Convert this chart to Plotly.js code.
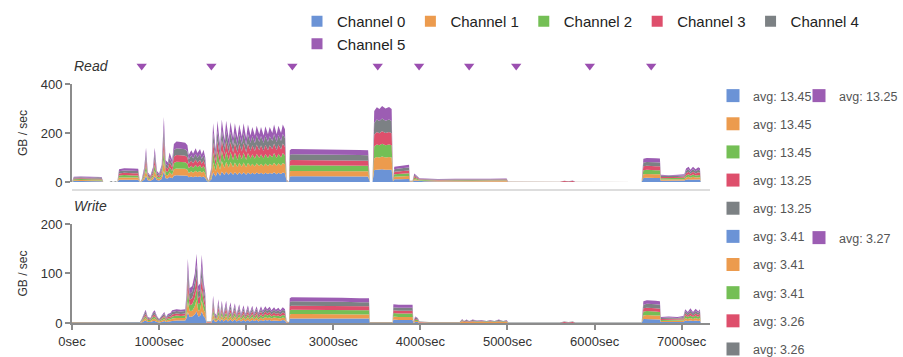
<!DOCTYPE html>
<html>
<head>
<meta charset="utf-8">
<script src="https://cdn.plot.ly/plotly-3.0.1.min.js"></script>
<style>html,body{margin:0;padding:0;background:#fff;}#chart{width:903px;height:357px;}</style>
</head>
<body>
<div id="chart"></div>
<script>
// ---------- DATA ----------
var channelNames = ['Channel 0', 'Channel 1', 'Channel 2', 'Channel 3', 'Channel 4', 'Channel 5'];
var readAvgLabels = ['avg: 13.45', 'avg: 13.45', 'avg: 13.45', 'avg: 13.25', 'avg: 13.25', 'avg: 13.25'];
var writeAvgLabels = ['avg: 3.41', 'avg: 3.41', 'avg: 3.41', 'avg: 3.26', 'avg: 3.26', 'avg: 3.27'];
var eventTimes = [800, 1600, 2530, 3510, 3985, 4560, 5100, 5945, 6650];
var xTickValues = [0, 1000, 2000, 3000, 4000, 5000, 6000, 7000];
var xTickLabels = ['0sec', '1000sec', '2000sec', '3000sec', '4000sec', '5000sec', '6000sec', '7000sec'];

var tRead = [
  0,20,100,200,300,340,360,430,450,470,
  500,520,540,600,700,760,780,800,830,850,
  870,900,930,950,975,1000,1030,1055,1075,1100,
  1120,1150,1170,1200,1250,1300,1325,1340,1370,1390,
  1420,1440,1470,1490,1510,1530,1550,1570,1600,1620,
  1650,1670,1700,1720,1750,1770,1800,1820,1850,1870,
  1900,1920,1950,1970,2000,2020,2050,2070,2100,2120,
  2150,2170,2200,2220,2250,2270,2300,2320,2350,2370,
  2400,2420,2445,2465,2490,2500,2520,2700,2900,3100,
  3300,3400,3420,3450,3470,3500,3530,3560,3600,3640,
  3670,3685,3700,3750,3800,3870,3880,3910,3930,3960,
  3990,4050,4200,4400,4600,4800,4990,5010,5600,5650,
  5700,5750,5780,6540,6560,6600,6700,6750,6760,6850,
  6950,7030,7050,7080,7100,7130,7160,7190,7210,7220
];
var read0 = [
  0,4,4,3,4,3,0,0,1,0, 1,0,9,10,9,9,0,2,10,24, 7,5,10,23,8,6,12,45,15,14,
  20,15,26,28,27,27,25,19,22,19, 23,20,23,19,22,17,4,1,11,40, 22,42,25,43,29,42,30,41,30,40,
  30,40,31,40,30,39,32,38,32,39, 33,38,32,38,33,37,34,40,32,38, 33,39,36,2,0,22,23,23,22,22,
  22,22,0,0,49,51,50,52,50,51, 50,2,11,11,12,12,1,1,6,5, 3,3,2,2,2,3,2,0,0,1,
  1,1,0,0,16,17,16,16,5,5, 5,6,9,11,9,10,9,10,10,0
];
var read1 = [
  0,3,4,4,4,3,0,0,1,0, 0,0,9,9,9,9,0,2,10,23, 7,4,10,24,8,6,12,44,15,13,
  20,15,26,27,27,27,25,18,22,19, 23,20,22,19,22,17,3,1,10,40, 22,42,25,43,28,41,29,41,30,40,
  30,39,31,40,30,39,32,37,31,38, 32,37,32,38,32,38,33,39,33,39, 34,39,36,2,0,22,22,22,22,22,
  22,22,0,0,48,51,50,52,50,51, 50,2,10,11,11,12,1,1,6,4, 3,2,2,2,2,2,3,0,0,1,
  0,1,0,0,16,16,16,16,5,5, 5,5,9,10,8,11,9,10,9,0
];
var read2 = [
  0,4,4,3,3,4,0,0,1,0, 1,0,9,10,9,9,0,2,10,24, 7,4,10,23,7,6,12,44,15,14,
  20,15,26,28,28,27,25,19,22,20, 23,20,23,19,22,17,4,1,10,40, 22,42,25,43,29,42,29,41,30,40,
  30,39,31,40,30,40,32,38,32,38, 33,38,32,38,33,37,34,39,32,38, 33,40,36,2,0,22,23,23,23,22,
  22,22,0,0,49,51,50,52,50,51, 50,2,11,11,12,12,1,1,6,4, 3,3,2,3,2,2,2,0,0,1,
  1,1,0,0,16,17,16,16,5,5, 5,6,9,11,9,10,9,10,10,0
];
var read3 = [
  0,3,3,4,4,3,0,0,0,0, 0,0,8,9,9,9,0,1,10,23, 6,4,10,24,7,6,11,44,15,13,
  20,15,26,27,27,26,25,18,21,19, 23,19,22,18,22,16,3,1,10,40, 21,41,25,42,28,42,29,41,30,40,
  30,39,31,40,30,39,31,37,32,38, 32,37,31,38,32,38,33,39,33,38, 33,39,36,2,0,21,22,22,22,22,
  22,21,0,0,48,51,49,51,50,51, 49,2,10,11,11,11,1,1,6,4, 2,2,2,2,2,2,3,0,0,1,
  0,1,0,0,16,16,16,16,5,4, 5,5,9,10,8,11,8,10,9,0
];
var read4 = [
  0,4,4,3,4,4,0,0,1,0, 1,0,9,9,10,9,0,2,10,23, 7,4,10,23,8,6,12,44,15,13,
  20,15,26,28,27,27,25,18,22,19, 23,20,23,19,22,17,3,1,10,40, 22,42,25,42,28,41,29,41,30,40,
  30,39,31,40,30,39,32,38,31,39, 33,38,32,38,33,37,33,39,32,39, 34,39,36,1,0,22,23,23,22,22,
  22,22,0,0,48,51,50,52,50,51, 50,1,10,11,11,12,1,1,6,4, 2,2,2,2,2,2,2,0,0,1,
  1,1,0,0,16,16,17,16,5,5, 5,5,10,10,8,10,9,10,9,0
];
var read5 = [
  0,3,3,4,3,3,0,0,0,0, 0,0,8,9,9,9,0,1,10,23, 6,4,10,23,7,5,11,44,15,13,
  20,15,25,27,27,26,25,18,21,19, 23,19,22,18,22,16,3,0,9,40, 21,41,25,42,28,42,29,40,30,40,
  30,39,30,40,30,39,31,37,32,38, 32,37,31,38,32,38,33,39,33,38, 33,39,35,1,0,21,22,22,22,22,
  21,21,0,0,48,50,49,51,50,51, 49,1,10,10,11,11,0,0,5,4, 2,2,2,2,2,2,2,0,0,0,
  0,1,0,0,15,16,16,16,5,4, 5,5,9,10,8,10,8,10,9,0
];

var tWrite = [
  0,200,400,600,780,800,830,845,870,900,
  930,950,975,1000,1030,1060,1080,1100,1130,1150,
  1200,1250,1300,1315,1330,1350,1380,1410,1430,1450,
  1470,1490,1510,1530,1545,1600,1620,1640,1660,1680,
  1700,1720,1740,1770,1790,1820,1840,1870,1890,1920,
  1940,1970,1990,2020,2040,2070,2090,2120,2140,2170,
  2190,2220,2240,2270,2290,2320,2340,2370,2390,2420,
  2445,2465,2490,2500,2520,2700,2900,3100,3300,3410,
  3420,3680,3690,3750,3850,3910,3920,3940,3970,3990,
  4100,4450,4480,4500,4530,4560,4600,4650,4700,4760,
  4800,4850,4900,4950,4990,5010,5600,5650,5700,5750,
  5780,6540,6560,6600,6700,6750,6760,6850,6950,7020,
  7040,7070,7100,7130,7160,7190,7210,7220
];
var write0 = [
  0,0,0,0,0,1,4,5,2,2, 4,4,2,1,2,4,2,3,3,4, 5,5,5,10,22,12,13,17,23,13,
  14,23,14,10,0,0,9,3,2,8, 3,8,3,7,3,7,3,7,3,6, 3,6,3,6,3,6,4,6,3,6,
  4,6,5,6,4,5,5,5,4,6, 5,0,0,9,9,9,9,9,9,9, 0,0,7,6,6,6,0,2,2,0,
  0,0,1,1,1,1,1,1,1,1, 1,1,1,1,1,0,0,0,0,0, 0,0,8,8,8,7,2,2,2,2,
  5,4,5,4,5,4,5,0
];
var write1 = [
  1,1,0,1,1,2,4,5,2,2, 4,5,3,2,3,4,2,3,4,5, 5,5,5,10,22,12,12,17,24,12,
  13,23,14,10,1,1,9,4,3,8, 3,7,3,8,3,7,3,7,3,7, 3,6,3,6,4,6,3,6,4,5,
  4,6,5,5,5,6,5,5,5,5, 5,1,1,8,9,9,9,8,8,8, 1,1,6,6,6,6,1,2,2,1,
  1,1,2,1,1,1,1,1,1,1, 1,1,1,1,1,0,0,1,1,1, 0,0,7,8,7,8,2,2,2,3,
  5,4,5,4,5,4,5,0
];
var write2 = [
  0,0,0,0,0,1,4,4,2,2, 4,4,2,1,3,4,2,3,3,4, 5,4,5,10,22,12,13,17,23,13,
  14,23,15,10,0,0,9,3,3,8, 3,8,3,7,3,7,3,7,3,6, 3,6,3,6,3,6,3,6,3,6,
  4,6,5,6,4,5,4,5,4,5, 5,0,0,9,9,9,8,9,9,9, 0,0,7,7,7,7,0,2,2,0,
  0,0,1,0,1,0,1,1,1,0, 1,0,1,0,1,0,0,0,0,0, 0,0,8,8,8,7,2,2,2,2,
  5,4,5,4,5,4,5,0
];
var write3 = [
  0,0,0,0,0,1,3,4,2,1, 3,4,2,1,2,3,2,3,3,4, 4,4,4,10,21,11,12,16,23,12,
  13,23,14,10,1,1,9,3,2,8, 3,7,3,8,3,7,3,6,3,6, 3,6,3,6,3,6,4,5,3,6,
  4,5,4,5,4,5,4,5,4,5, 4,1,0,8,8,8,8,8,8,8, 0,0,6,6,6,6,1,2,1,1,
  0,0,1,1,1,1,1,0,1,1, 1,1,1,1,1,0,0,1,0,1, 0,0,7,7,7,7,2,2,2,2,
  4,3,5,3,4,4,4,0
];
var write4 = [
  1,1,1,1,1,2,4,5,2,2, 4,5,3,2,3,4,2,3,4,5, 5,5,5,10,22,12,13,17,24,13,
  13,23,14,10,1,1,10,4,3,8, 3,8,3,7,3,7,3,7,3,7, 3,6,3,6,4,6,3,6,4,5,
  5,6,5,6,5,6,5,6,5,6, 5,1,1,8,9,9,9,9,8,8, 1,1,6,6,6,6,1,3,2,1,
  1,1,2,1,2,1,2,1,1,1, 1,1,2,1,1,1,1,1,1,1, 1,1,7,8,8,8,2,3,2,3,
  5,4,5,4,5,4,5,0
];
var write5 = [
  0,0,0,0,0,1,3,4,2,1, 3,4,2,1,2,3,2,3,3,4, 4,4,4,10,21,11,12,16,23,12,
  13,23,14,10,0,0,9,3,2,8, 3,7,3,8,3,7,3,6,3,6, 3,6,3,6,3,5,3,5,3,6,
  4,5,4,5,4,5,4,5,4,5, 4,0,0,8,8,8,8,8,8,8, 0,0,6,6,6,6,0,2,1,0,
  0,0,1,0,1,0,1,1,1,0, 1,0,1,0,1,0,0,0,0,0, 0,0,7,7,7,7,2,2,2,2,
  4,3,5,3,5,3,4,0
];

// ---------- STYLE ----------
var colors = ['#6b93d6', '#ec9b4e', '#74bf55', '#de4f6c', '#7c8184', '#9c5db3'];
var FONT = 'Liberation Sans, Arial, sans-serif';
var readSeries = [read0, read1, read2, read3, read4, read5];
var writeSeries = [write0, write1, write2, write3, write4, write5];

var traces = [];
readSeries.forEach(function (ys, i) {
  traces.push({
    type: 'scatter', mode: 'lines', x: tRead, y: ys, xaxis: 'x2', yaxis: 'y2',
    stackgroup: 'read', line: {width: 0, color: colors[i]}, fillcolor: colors[i],
    name: channelNames[i], showlegend: false, hoverinfo: 'skip'
  });
});
writeSeries.forEach(function (ys, i) {
  traces.push({
    type: 'scatter', mode: 'lines', x: tWrite, y: ys, xaxis: 'x', yaxis: 'y',
    stackgroup: 'write', line: {width: 0, color: colors[i]}, fillcolor: colors[i],
    name: channelNames[i], showlegend: false, hoverinfo: 'skip'
  });
});
// event markers in a strip above the Read panel
traces.push({
  type: 'scatter', mode: 'markers', x: eventTimes, y: eventTimes.map(function () { return 0.5; }),
  xaxis: 'x2', yaxis: 'y3', showlegend: false, hoverinfo: 'skip',
  marker: {symbol: 'triangle-down', size: 9, color: '#9b4fb0'}
});
// legend entries (top)
channelNames.forEach(function (n, i) {
  traces.push({type: 'scatter', mode: 'markers', x: [null], y: [null], name: n,
    marker: {symbol: 'square', size: 11, color: colors[i]}, legend: 'legend', showlegend: true});
});
// avg legends (right)
for (var i = 0; i < 5; i++) {
  traces.push({type: 'scatter', mode: 'markers', x: [null], y: [null], name: readAvgLabels[i],
    legendgroup: 'r' + i, marker: {symbol: 'square', size: 13, color: colors[i]}, legend: 'legend3', showlegend: true});
}
for (var j = 0; j < 5; j++) {
  traces.push({type: 'scatter', mode: 'markers', x: [null], y: [null], name: writeAvgLabels[j],
    legendgroup: 'w' + j, marker: {symbol: 'square', size: 13, color: colors[j]}, legend: 'legend3', showlegend: true});
}
traces.push({type: 'scatter', mode: 'markers', x: [null], y: [null], name: readAvgLabels[5],
  marker: {symbol: 'square', size: 13, color: colors[5]}, legend: 'legend4', showlegend: true});
traces.push({type: 'scatter', mode: 'markers', x: [null], y: [null], name: writeAvgLabels[5],
  marker: {symbol: 'square', size: 13, color: colors[5]}, legend: 'legend5', showlegend: true});

var axisLine = '#8c8c8c';
var yCommon = {
  showline: true, linecolor: axisLine, linewidth: 2, ticks: 'outside', ticklen: 5, tickwidth: 2,
  tickcolor: axisLine, showgrid: false, zeroline: false, fixedrange: true,
  tickfont: {family: FONT, size: 13, color: '#333'},
  title: {text: 'GB / sec', font: {family: FONT, size: 12, color: '#333'}, standoff: 10}
};

// plot area spans y = 56 .. 323 px (height 267)
var layout = {
  width: 903, height: 357,
  margin: {l: 72, r: 193, t: 56, b: 34, pad: 0, autoexpand: false},
  paper_bgcolor: '#fff', plot_bgcolor: '#fff',
  font: {family: FONT, color: '#333'},
  showlegend: true,
  xaxis: {
    domain: [0, 1], range: [0, 7325], anchor: 'y',
    tickvals: xTickValues, ticktext: xTickLabels,
    showline: true, linecolor: axisLine, linewidth: 2, ticks: 'outside', ticklen: 5, tickwidth: 2,
    tickcolor: axisLine, showgrid: false, zeroline: false,
    tickfont: {family: FONT, size: 13, color: '#333'}
  },
  xaxis2: {
    domain: [0, 1], range: [0, 7325], anchor: 'free', position: 0.4981,
    showline: true, linecolor: '#dddddd', linewidth: 2, ticks: '', showticklabels: false,
    showgrid: false, zeroline: false
  },
  yaxis: Object.assign({}, yCommon, {domain: [0, 0.3708], range: [0, 200], tickvals: [0, 100, 200], anchor: 'x'}),
  yaxis2: Object.assign({}, yCommon, {domain: [0.5281, 0.8951], range: [0, 400], tickvals: [0, 200, 400], anchor: 'x2'}),
  yaxis3: {domain: [0.9251, 1], range: [0, 1], anchor: 'x2', visible: false, fixedrange: true},
  legend: {
    orientation: 'h', traceorder: 'normal', xref: 'container', yref: 'container', x: 297 / 903, y: 1 - 5 / 357,
    xanchor: 'left', yanchor: 'top', font: {family: FONT, size: 15, color: '#222'},
    bgcolor: 'rgba(0,0,0,0)', borderwidth: 0
  },
  legend3: {
    orientation: 'v', xref: 'container', yref: 'container', x: 713 / 903, y: 1 - 81 / 357,
    xanchor: 'left', yanchor: 'top', font: {family: FONT, size: 12.5, color: '#555'},
    traceorder: 'grouped', tracegroupgap: 8.9, maxheight: 340, bgcolor: 'rgba(0,0,0,0)', borderwidth: 0
  },
  legend4: {
    orientation: 'v', xref: 'container', yref: 'container', x: 799 / 903, y: 1 - 81 / 357,
    xanchor: 'left', yanchor: 'top', font: {family: FONT, size: 12.5, color: '#555'},
    bgcolor: 'rgba(0,0,0,0)', borderwidth: 0
  },
  legend5: {
    orientation: 'v', xref: 'container', yref: 'container', x: 799 / 903, y: 1 - 223 / 357,
    xanchor: 'left', yanchor: 'top', font: {family: FONT, size: 12.5, color: '#555'},
    bgcolor: 'rgba(0,0,0,0)', borderwidth: 0
  },
  annotations: [
    {text: 'Read', xref: 'paper', yref: 'paper', x: 0, y: 0.9625, xanchor: 'left', yanchor: 'middle',
     showarrow: false, font: {family: FONT, size: 14, color: '#333', style: 'italic'}},
    {text: 'Write', xref: 'paper', yref: 'paper', x: 0, y: 0.4382, xanchor: 'left', yanchor: 'middle',
     showarrow: false, font: {family: FONT, size: 14, color: '#333', style: 'italic'}}
  ]
};

Plotly.newPlot('chart', traces, layout, {staticPlot: true, displayModeBar: false});
</script>
</body>
</html>
